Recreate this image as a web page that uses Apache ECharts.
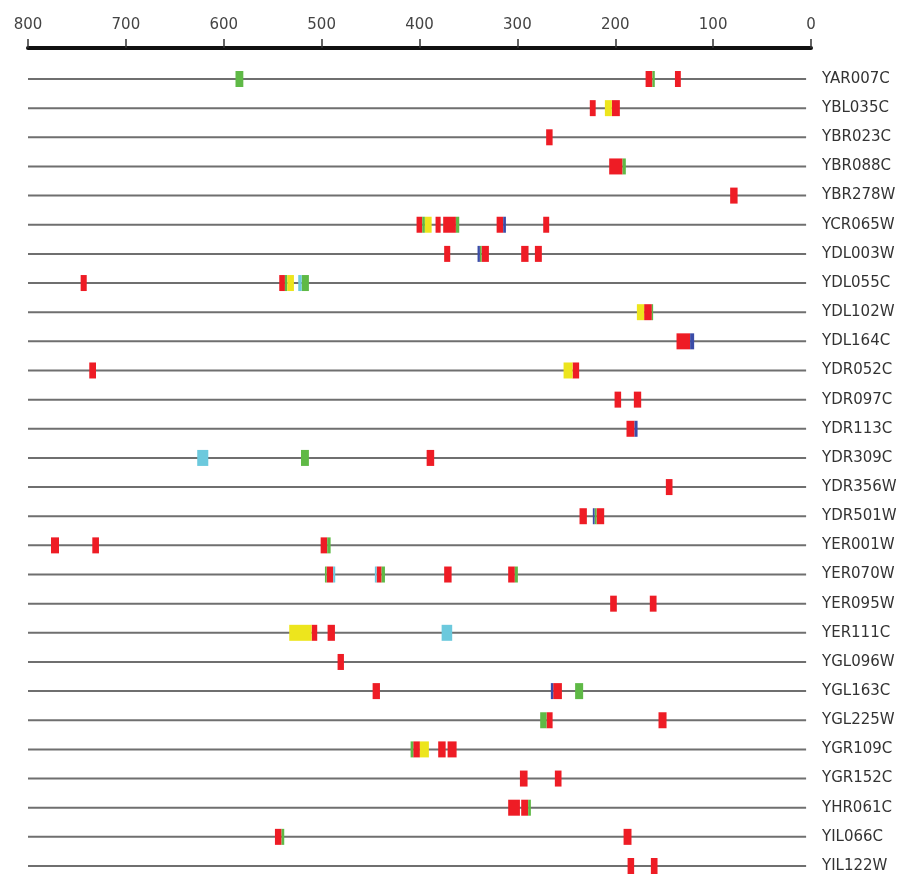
<!DOCTYPE html>
<html>
<head>
<meta charset="utf-8">
<script src="https://cdn.jsdelivr.net/npm/echarts@6/dist/echarts.min.js"></script>
<style>
html,body{margin:0;padding:0;background:#fff;}
#chart{width:912px;height:874px;}
</style>
</head>
<body>
<div id="chart"></div>
<script>
var categories = ['YAR007C','YBL035C','YBR023C','YBR088C','YBR278W','YCR065W','YDL003W','YDL055C','YDL102W','YDL164C','YDR052C','YDR097C','YDR113C','YDR309C','YDR356W','YDR501W','YER001W','YER070W','YER095W','YER111C','YGL096W','YGL163C','YGL225W','YGR109C','YGR152C','YHR061C','YIL066C','YIL122W'];
var xTicks = [0,100,200,300,400,500,600,700,800];

// [row, start, end]
var redMarks = [
  [0,162,169],[0,133,139],
  [1,220,226],[1,195.3,203.5],
  [2,264,270.6],
  [3,192.5,206.2],
  [4,75,82.6],
  [5,397.2,403],[5,378.4,383.6],[5,362.8,375.8],[5,314.5,321.2],[5,267.5,273.6],
  [6,368.6,374.8],[6,329.1,336.6],[6,288.6,296.1],[6,275,282.1],
  [7,740,746.2],[7,537.5,543.3],
  [8,162.6,170.5],
  [9,123.5,137.4],
  [10,730.5,737.4],[10,236.9,243.6],
  [11,194,200.7],[11,173.5,181],
  [12,180.3,188.5],
  [13,385,392.7],
  [14,141.5,148.3],
  [15,229,236.5],[15,211.3,219.1],
  [16,768.3,776.5],[16,727.5,734.3],[16,494.3,501],
  [17,488.2,494.9],[17,438.7,443.8],[17,367.2,374.8],[17,302.6,309.4],
  [18,198.4,205.2],[18,157.8,164.7],
  [19,504.5,510.2],[19,486.4,493.9],
  [20,477.2,483.7],
  [21,440.4,447.9],[21,254.5,263.4],
  [22,264,270.2],[22,147.6,155.8],
  [23,399.6,406.4],[23,373.3,380.9],[23,362.1,371.3],
  [24,289.6,297.4],[24,254.9,261.7],
  [25,297.4,309.4],[25,289,296.1],
  [26,540.9,547.7],[26,183.4,191.5],
  [27,180.7,187.4],[27,156.8,163.6]
];
var greenMarks = [
  [0,580,588],[0,159.6,162],
  [3,189.2,192.5],
  [5,394.5,397.2],[5,359.4,362.8],
  [6,336.6,338.3],
  [7,535.1,537.5],[7,513,520.4],
  [8,161.3,162.6],
  [13,513,521.1],
  [15,219.1,221.1],
  [16,490.8,494.3],
  [17,494.9,496.6],[17,435.3,438.7],[17,299.5,302.6],
  [21,232.8,241],
  [22,270.2,276.7],
  [23,406.4,409.1],
  [25,286.2,289],
  [26,538.2,540.9]
];
var yellowMarks = [
  [1,203.5,210.6],
  [5,387.6,394.5],
  [7,528.3,535.1],
  [8,170.5,177.9],
  [10,243.6,252.8],
  [19,510.2,533.1],
  [23,390.4,399.6]
];
var blueMarks = [
  [5,311.7,314.5],
  [6,338.3,340.7],
  [9,119.4,123.5],
  [12,177.2,180.3],
  [15,221.1,222.9],
  [21,263.4,265.8]
];
var cyanMarks = [
  [7,520.4,523.9],
  [13,615.8,627.1],
  [17,486.1,488.2],[17,443.8,445.6],
  [19,366.6,377.4]
];

var backboneRows = categories.map(function(c, i){ return [i, 800, 5]; });

function segRender(color, half, isLine){
  return function(params, api){
    var row = api.value(0);
    var p1 = api.coord([api.value(1), row]);
    var p2 = api.coord([api.value(2), row]);
    if (isLine) {
      return {type:'line', shape:{x1:p1[0], y1:p1[1], x2:p2[0], y2:p2[1]},
        style:{stroke:color, lineWidth:2}};
    }
    var x = Math.min(p1[0], p2[0]);
    var w = Math.abs(p2[0] - p1[0]);
    return {type:'rect', shape:{x:x, y:p1[1]-half, width:w, height:half*2},
      style:{fill:color}};
  };
}

function markSeries(name, data, color){
  return {
    name: name, type:'custom', data: data,
    encode:{x:[1,2], y:0},
    renderItem: segRender(color, 8, false),
    clip:false, silent:true, z:3
  };
}

var chart = echarts.init(document.getElementById('chart'));
chart.setOption({
  animation:false,
  backgroundColor:'#fff',
  grid:{left:28, right:101, top:79, bottom:8, containLabel:false},
  xAxis:{
    type:'value', min:0, max:800, interval:100, inverse:true,
    position:'top', offset:31,
    axisLine:{show:true, lineStyle:{color:'#111', width:4}},
    axisTick:{show:true, length:9, lineStyle:{color:'#333', width:1.5}},
    axisLabel:{show:true, margin:15, fontSize:15, color:'#444', fontFamily:'DejaVu Sans',
      formatter:function(v){ return xTicks.indexOf(v) >= 0 ? String(v) : ''; }},
    splitLine:{show:false}
  },
  yAxis:{
    type:'category', data:categories, inverse:true, boundaryGap:false,
    position:'right',
    axisLine:{show:false}, axisTick:{show:false}, splitLine:{show:false},
    axisLabel:{show:true, margin:11, fontSize:15, color:'#333', fontFamily:'DejaVu Sans', interval:0}
  },
  series:[
    {name:'backbone', type:'custom', data:backboneRows, encode:{x:[1,2], y:0},
     renderItem: segRender('#6f6f6f', 0, true), clip:false, silent:true, z:1},
    markSeries('red', redMarks, '#ee1c25'),
    markSeries('green', greenMarks, '#5fb946'),
    markSeries('yellow', yellowMarks, '#ede51d'),
    markSeries('blue', blueMarks, '#3b4ca8'),
    markSeries('cyan', cyanMarks, '#6cc9dd')
  ]
});
</script>
</body>
</html>
